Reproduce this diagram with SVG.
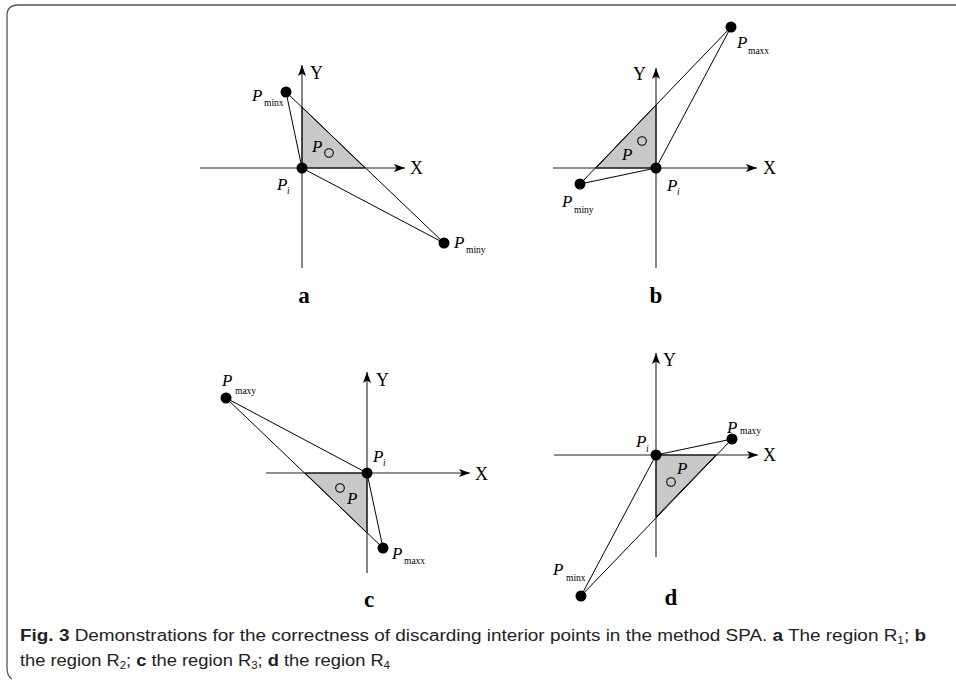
<svg xmlns="http://www.w3.org/2000/svg" width="956" height="680" viewBox="0 0 956 680">
<style>
.ax{stroke:#222;stroke-width:1.1;fill:none}
.ln{stroke:#000;stroke-width:1;fill:none}
.tri{fill:#c8c8c8;stroke:#000;stroke-width:1}
.pt{fill:#000}
.hole{fill:none;stroke:#000;stroke-width:1.1}
.P{font-family:"Liberation Serif",serif;font-style:italic;font-size:17px;fill:#000}
.sub{font-family:"Liberation Serif",serif;font-size:9.5px;fill:#000}
.axl{font-family:"Liberation Serif",serif;font-size:18px;fill:#000}
.lab{font-family:"Liberation Serif",serif;font-weight:bold;font-size:23px;fill:#000;text-anchor:middle}
.cap{font-family:"Liberation Sans",sans-serif;font-size:16px;fill:#222}
.b{font-weight:bold}
</style>
<defs>
<marker id="arr" markerUnits="userSpaceOnUse" markerWidth="11" markerHeight="8" refX="11" refY="4" orient="auto">
<path d="M0,0 L11,4 L0,8 L2.5,4 z" fill="#000"/>
</marker>
</defs>
<path d="M956,5 H18 Q7,5 7,16 V668 Q7,676 12,679" fill="none" stroke="#555" stroke-width="1.3"/>

<g id="panel-a">
<polygon class="tri" points="302,168 302,107 365,168"/>
<line class="ax" x1="200" y1="168" x2="405" y2="168" marker-end="url(#arr)"/>
<line class="ax" x1="302" y1="268" x2="302" y2="65" marker-end="url(#arr)"/>
<text class="axl" x="410" y="174">X</text>
<text class="axl" x="310" y="79">Y</text>
<g id="a-connectors">
<line class="ln" x1="286" y1="92" x2="302" y2="168"/>
<line class="ln" x1="286" y1="92" x2="444" y2="243"/>
<line class="ln" x1="302" y1="168" x2="444" y2="243"/>
</g>
<g id="a-Pi"><circle class="pt" cx="302" cy="168" r="5.5"/><text class="P" x="277" y="190">P</text><text class="sub" x="287" y="194" font-style="italic">i</text></g>
<g id="a-Pminx"><circle class="pt" cx="286" cy="92" r="5.5"/><text class="P" x="252" y="101">P</text><text class="sub" x="264" y="106">minx</text></g>
<g id="a-Pminy"><circle class="pt" cx="444" cy="243" r="5.5"/><text class="P" x="454" y="248">P</text><text class="sub" x="466" y="253">miny</text></g>
<g id="a-P"><circle class="hole" cx="329" cy="153" r="4.3"/><text class="P" x="312" y="152">P</text></g>
<text class="lab" x="304" y="303">a</text>
</g>

<g id="panel-b">
<polygon class="tri" points="656,168 656,105 596,168"/>
<line class="ax" x1="553" y1="168" x2="757" y2="168" marker-end="url(#arr)"/>
<line class="ax" x1="656" y1="268" x2="656" y2="68" marker-end="url(#arr)"/>
<text class="axl" x="763" y="174">X</text>
<text class="axl" x="633" y="80">Y</text>
<g id="b-connectors">
<line class="ln" x1="580" y1="184" x2="731" y2="27"/>
<line class="ln" x1="656" y1="168" x2="731" y2="27"/>
<line class="ln" x1="580" y1="184" x2="656" y2="168"/>
</g>
<g id="b-Pi"><circle class="pt" cx="656" cy="168" r="5.5"/><text class="P" x="667" y="191">P</text><text class="sub" x="677" y="195" font-style="italic">i</text></g>
<g id="b-Pmaxx"><circle class="pt" cx="731" cy="27" r="5.5"/><text class="P" x="737" y="48">P</text><text class="sub" x="748" y="54">maxx</text></g>
<g id="b-Pminy"><circle class="pt" cx="580" cy="184" r="5.5"/><text class="P" x="562" y="207">P</text><text class="sub" x="574" y="213">miny</text></g>
<g id="b-P"><circle class="hole" cx="642" cy="141" r="4.3"/><text class="P" x="622" y="160">P</text></g>
<text class="lab" x="656" y="303">b</text>
</g>

<g id="panel-c">
<polygon class="tri" points="367,473 305,473 367,533"/>
<line class="ax" x1="266" y1="473" x2="470" y2="473" marker-end="url(#arr)"/>
<line class="ax" x1="367" y1="573" x2="367" y2="372" marker-end="url(#arr)"/>
<text class="axl" x="475" y="480">X</text>
<text class="axl" x="376" y="386">Y</text>
<g id="c-connectors">
<line class="ln" x1="226" y1="398" x2="367" y2="473"/>
<line class="ln" x1="226" y1="398" x2="383" y2="548"/>
<line class="ln" x1="367" y1="473" x2="383" y2="548"/>
</g>
<g id="c-Pi"><circle class="pt" cx="367" cy="473" r="5.5"/><text class="P" x="373" y="462">P</text><text class="sub" x="383" y="466" font-style="italic">i</text></g>
<g id="c-Pmaxy"><circle class="pt" cx="226" cy="398" r="5.5"/><text class="P" x="222" y="386">P</text><text class="sub" x="235" y="394">maxy</text></g>
<g id="c-Pmaxx"><circle class="pt" cx="383" cy="548" r="5.5"/><text class="P" x="392" y="559">P</text><text class="sub" x="404" y="564">maxx</text></g>
<g id="c-P"><circle class="hole" cx="340" cy="488" r="4.3"/><text class="P" x="347" y="504">P</text></g>
<text class="lab" x="369" y="607">c</text>
</g>

<g id="panel-d">
<polygon class="tri" points="656,455 716,455 656,517"/>
<line class="ax" x1="554" y1="455" x2="758" y2="455" marker-end="url(#arr)"/>
<line class="ax" x1="656" y1="557" x2="656" y2="353" marker-end="url(#arr)"/>
<text class="axl" x="763" y="461">X</text>
<text class="axl" x="663" y="366">Y</text>
<g id="d-connectors">
<line class="ln" x1="656" y1="455" x2="732" y2="439"/>
<line class="ln" x1="732" y1="439" x2="581" y2="596"/>
<line class="ln" x1="656" y1="455" x2="581" y2="596"/>
</g>
<g id="d-Pi"><circle class="pt" cx="656" cy="455" r="5.5"/><text class="P" x="636" y="447">P</text><text class="sub" x="646" y="452" font-style="italic">i</text></g>
<g id="d-Pmaxy"><circle class="pt" cx="732" cy="439" r="5.5"/><text class="P" x="727" y="433">P</text><text class="sub" x="740" y="434">maxy</text></g>
<g id="d-Pminx"><circle class="pt" cx="581" cy="596" r="5.5"/><text class="P" x="553" y="575">P</text><text class="sub" x="566" y="581">minx</text></g>
<g id="d-P"><circle class="hole" cx="671" cy="482" r="4.3"/><text class="P" x="677" y="474">P</text></g>
<text class="lab" x="671" y="605">d</text>
</g>

<g id="caption">
<text class="cap" x="20" y="641" textLength="906" lengthAdjust="spacingAndGlyphs"><tspan class="b">Fig. 3</tspan>  Demonstrations for the correctness of discarding interior points in the method SPA. <tspan class="b">a</tspan> The region R<tspan font-size="10" dy="3">1</tspan><tspan dy="-3">; </tspan><tspan class="b">b</tspan></text>
<text class="cap" x="20" y="666" textLength="370" lengthAdjust="spacingAndGlyphs">the region R<tspan font-size="10" dy="3">2</tspan><tspan dy="-3">; </tspan><tspan class="b">c</tspan> the region R<tspan font-size="10" dy="3">3</tspan><tspan dy="-3">; </tspan><tspan class="b">d</tspan> the region R<tspan font-size="10" dy="3">4</tspan></text>
</g>
</svg>
